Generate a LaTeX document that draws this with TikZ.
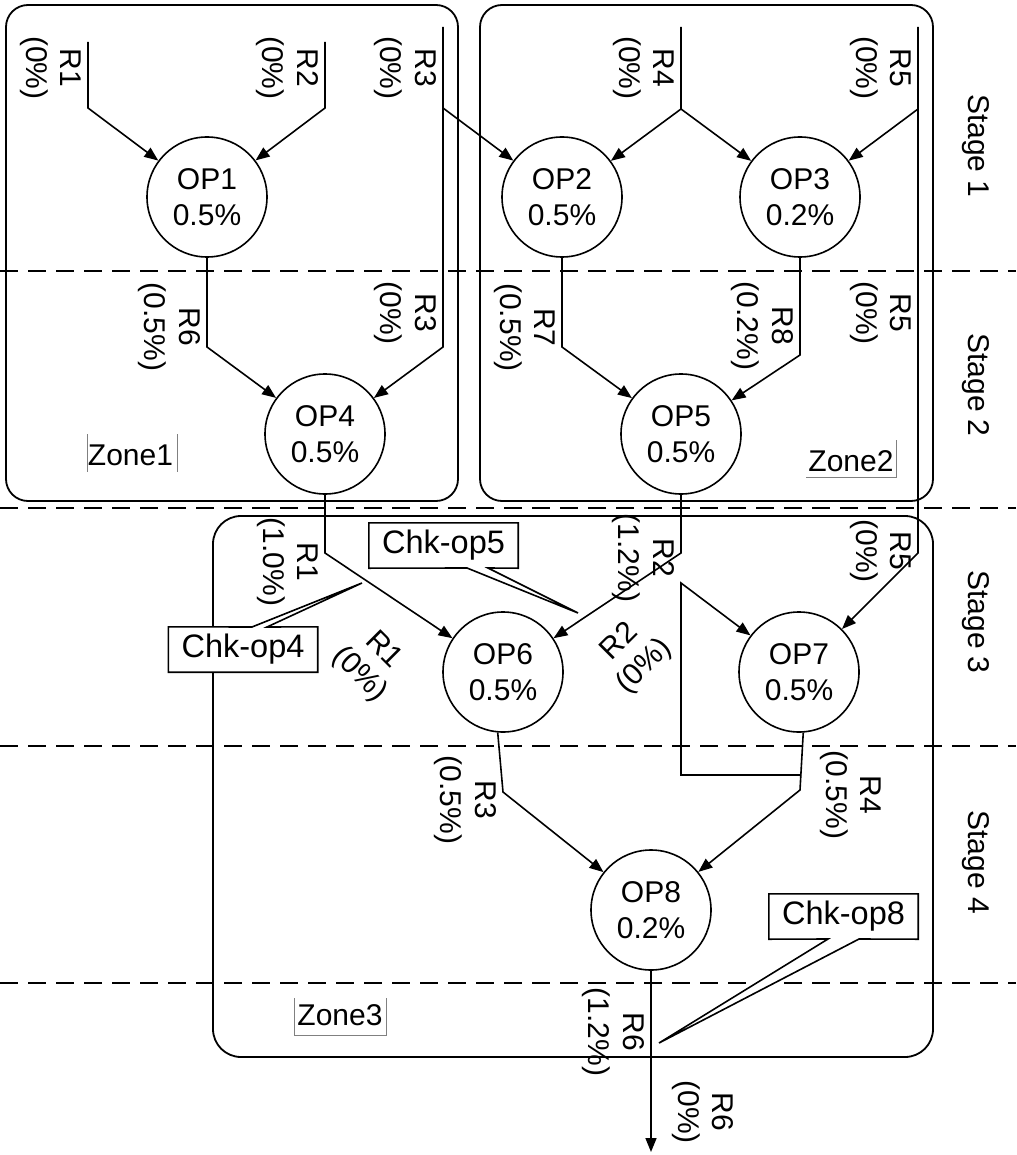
\documentclass[tikz,border=0pt]{standalone}
\usepackage{fontspec}
\setmainfont{Liberation Sans}
\usetikzlibrary{arrows.meta,calc}
\begin{document}
\begin{tikzpicture}[x=1pt,y=-1pt,
  every node/.style={font=\fontsize{30}{34.5}\selectfont},
  op/.style={circle,draw,fill=white,line width=1.6pt,minimum size=120pt,inner sep=0pt,align=center,font=\fontsize{30}{36}\selectfont},
  rl/.style={align=center,rotate=-90,inner sep=0pt},
  rla/.style={align=center,inner sep=0pt},
  arr/.style={line width=1.6pt,-{Triangle[length=14pt,width=11pt]}},
  zone/.style={line width=1.8pt,rounded corners=22pt},
  stagesep/.style={line width=1.6pt,dash pattern=on 18pt off 10pt},
  chk/.style={minimum width=149pt,minimum height=45pt,inner sep=0pt,font=\fontsize{32.5}{38}\selectfont},
  callout/.style={line width=1.6pt,fill=white,line join=miter},
  zlab/.style={inner sep=0pt,anchor=base},
  zbox/.style={line width=0.8pt,draw=gray}
]
\useasboundingbox (0,0) rectangle (1016,1155);

% zones
\draw[zone] (6,5) rectangle (458,501);
\draw[zone] (480,5) rectangle (933,501);
\draw[zone,rounded corners=28pt] (213,516) rectangle (933,1057);

% stage separators
\foreach \yy in {271,508,746,983} \draw[stagesep] (0,\yy) -- (1016,\yy);

% stage labels
\node[rl] (s1) at (976,146) {Stage 1};
\node[rl] (s2) at (976,385) {Stage 2};
\node[rl] (s3) at (976,622) {Stage 3};
\node[rl] (s4) at (976,862) {Stage 4};

% operations
\node[op] (OP1) at (207,197) {OP1\\0.5\%};
\node[op] (OP2) at (562,197) {OP2\\0.5\%};
\node[op] (OP3) at (800,197) {OP3\\0.2\%};
\node[op] (OP4) at (325,434) {OP4\\0.5\%};
\node[op] (OP5) at (681,434) {OP5\\0.5\%};
\node[op] (OP6) at (503,672) {OP6\\0.5\%};
\node[op] (OP7) at (799,672) {OP7\\0.5\%};
\node[op] (OP8) at (651,910) {OP8\\0.2\%};

% coordinates
\coordinate (r1top) at (88,42);   \coordinate (r1b) at (88,108);
\coordinate (r2top) at (325,42);  \coordinate (r2b) at (325,108);
\coordinate (r3top) at (443,27);  \coordinate (r3b) at (443,108);
\coordinate (r3c) at (443,347);
\coordinate (r4top) at (681,27);  \coordinate (r4b) at (681,109);
\coordinate (r5top) at (918,27);  \coordinate (r5b) at (918,109);
\coordinate (r5c) at (918,553);
\coordinate (r6b) at (207,347);
\coordinate (r7b) at (562,347);
\coordinate (r8b) at (800,355);
\coordinate (r1c) at (325,553);
\coordinate (r2c) at (681,553);
\coordinate (lpa) at (681,583);
\coordinate (lpb) at (681,775);
\coordinate (lpc) at (801,775);
\coordinate (r3d) at (503,792);
\coordinate (r4d) at (800,790);
\coordinate (out) at (651,1152);

% connectors
\draw[arr] (r1top) -- (r1b) -- (OP1);
\draw[arr] (r2top) -- (r2b) -- (OP1);
\draw[arr] (r3top) -- (r3b) -- (OP2);
\draw[arr] (r3b) -- (r3c) -- (OP4);
\draw[arr] (r4top) -- (r4b) -- (OP2);
\draw[arr] (r4b) -- (OP3);
\draw[arr] (r5top) -- (r5b) -- (OP3);
\draw[arr] (r5b) -- (r5c) -- (OP7);
\draw[arr] (OP1) -- (r6b) -- (OP4);
\draw[arr] (OP2) -- (r7b) -- (OP5);
\draw[arr] (OP3) -- (r8b) -- (OP5);
\draw[arr] (OP4) -- (r1c) -- (OP6);
\draw[arr] (OP5) -- (r2c) -- (OP6);
\draw[arr] (lpc) -- (lpb) -- (lpa) -- (OP7);
\draw[arr] (OP6.265) -- (r3d) -- (OP8);
\draw[arr] (OP7.274) -- (r4d) -- (OP8);
\draw[arr] (OP8) -- (out);

% flow labels
\node[rl] (l1) at (50.5,68) {R1\\(0\%)};
\node[rl] (l2) at (287.5,68) {R2\\(0\%)};
\node[rl] (l3) at (405.5,68) {R3\\(0\%)};
\node[rl] (l4) at (643.5,68) {R4\\(0\%)};
\node[rl] (l5) at (880.5,68) {R5\\(0\%)};
\node[rl] (l6) at (169.5,327) {R6\\(0.5\%)};
\node[rl] (l7) at (405.5,313) {R3\\(0\%)};
\node[rl] (l8) at (524.5,327.5) {R7\\(0.5\%)};
\node[rl] (l9) at (762.5,326) {R8\\(0.2\%)};
\node[rl] (l10) at (880.5,313) {R5\\(0\%)};
\node[rl] (l11) at (287.5,562) {R1\\(1.0\%)};
\node[rl] (l12) at (643.5,558) {R2\\(1.2\%)};
\node[rl] (l13) at (880.5,551) {R5\\(0\%)};
\node[rla,rotate=-45] (l14) at (371,663) {R1\\(0\%)};
\node[rla,rotate=45] (l15) at (632.5,654.5) {R2\\(0\%)};
\node[rl] (l16) at (465.5,800) {R3\\(0.5\%)};
\node[rl] (l17) at (850.5,795) {R4\\(0.5\%)};
\node[rl] (l18) at (613.5,1032) {R6\\(1.2\%)};
\node[rl] (l19) at (703,1112) {R6\\(0\%)};

% callouts
\coordinate (c4a) at (252,627); \coordinate (c4b) at (267,627); \coordinate (c4tip) at (362,583);
\coordinate (c5a) at (467,568); \coordinate (c5b) at (488,568); \coordinate (c5tip) at (578,613);
\coordinate (c8a) at (828,939); \coordinate (c8b) at (859,939); \coordinate (c8tip) at (659,1043);
\node[chk] (c4) at (243,649.5) {};
\draw[callout] (c4.north west) -- (c4.south west) -- (c4.south east) -- (c4.north east) -- (c4b) -- (c4tip) -- (c4a) -- cycle;
\node[chk] (c4t) at (243,649.5) {Chk-op4};
\node[chk] (c5) at (443.5,545.5) {};
\draw[callout] (c5.south west) -- (c5.north west) -- (c5.north east) -- (c5.south east) -- (c5b) -- (c5tip) -- (c5a) -- cycle;
\node[chk] (c5t) at (443.5,545.5) {Chk-op5};
\node[chk] (c8) at (843.5,916.5) {};
\draw[callout] (c8.south west) -- (c8.north west) -- (c8.north east) -- (c8.south east) -- (c8b) -- (c8tip) -- (c8a) -- cycle;
\node[chk] (c8t) at (843.5,916.5) {Chk-op8};

% zone labels
\node[zlab] (z1) at (130.5,465) {Zone1};
\draw[zbox] (87,434) -- (87,472);
\draw[zbox] (177,434) -- (177,472);
\node[zlab] (z2) at (851,471) {Zone2};
\draw[zbox] (806,477) -- (896,477) -- (896,440);
\node[zlab] (z3) at (340,1025) {Zone3};
\draw[zbox] (294,998) -- (294,1035) -- (386,1035) -- (386,998);
\end{tikzpicture}
\end{document}
